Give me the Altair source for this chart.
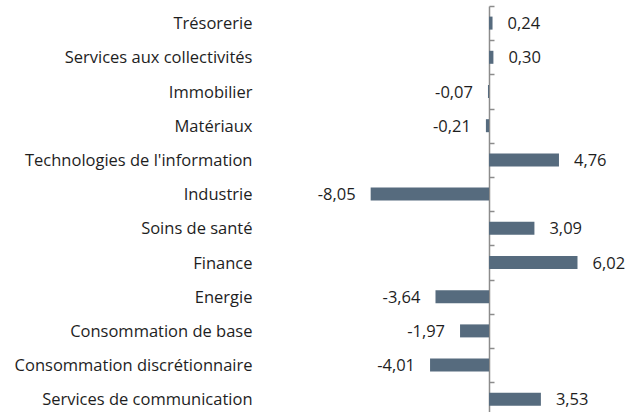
import altair as alt
import pandas as pd

categories = [
    "Trésorerie",
    "Services aux collectivités",
    "Immobilier",
    "Matériaux",
    "Technologies de l'information",
    "Industrie",
    "Soins de santé",
    "Finance",
    "Energie",
    "Consommation de base",
    "Consommation discrétionnaire",
    "Services de communication",
]
values = [0.24, 0.30, -0.07, -0.21, 4.76, -8.05, 3.09, 6.02, -3.64, -1.97, -4.01, 3.53]

df = pd.DataFrame({
    "cat": categories,
    "val": values,
    "label": [f"{v:.2f}".replace(".", ",") for v in values],
})

FONT = "Open Sans"
FS = 16.5
TXT = "#1e1e1e"
BAR = "#566b7e"
AXC = "#8c8c8c"
SCALE_PX = 14.7
W = 372
LEFT_PX = 489 - 260
STEP = 34.2
xdom = [-LEFT_PX / SCALE_PX, (W - LEFT_PX) / SCALE_PX]

xscale = alt.Scale(domain=xdom, nice=False, zero=False)
yscale = alt.Scale(domain=categories, paddingInner=0, paddingOuter=0, range=[0, STEP * 12])

base = alt.Chart(df)

bars = base.mark_bar(size=13, color=BAR).encode(
    x=alt.X("val:Q", scale=xscale, axis=None),
    y=alt.Y("cat:N", scale=yscale, sort=categories,
            axis=alt.Axis(title=None, domain=False, ticks=False, labelPadding=8,
                          labelOffset=1, labelFont=FONT, labelFontSize=FS,
                          labelColor=TXT, labelLimit=400)),
)

# zero axis: a right-oriented y axis moved inward onto x = 0, ticks at band edges
zero_axis = base.mark_point(opacity=0).encode(
    x=alt.X("val:Q", scale=xscale, axis=None),
    y=alt.Y("cat:N", scale=yscale, sort=categories,
            axis=alt.Axis(orient="right", title=None, labels=False, domain=True,
                          domainColor=AXC, domainWidth=1.5, ticks=True,
                          tickColor=AXC, tickWidth=1.5, tickSize=5,
                          tickBand="extent", offset=-(W - LEFT_PX))),
)

pos = base.transform_filter("datum.val >= 0").mark_text(
    align="left", baseline="middle", dx=15, dy=1, font=FONT, fontSize=FS, color=TXT
).encode(
    x=alt.X("val:Q", scale=xscale, axis=None),
    y=alt.Y("cat:N", scale=yscale, sort=categories, axis=None),
    text="label:N",
)

neg = base.transform_filter("datum.val < 0").mark_text(
    align="right", baseline="middle", dx=-15, dy=1, font=FONT, fontSize=FS, color=TXT
).encode(
    x=alt.X("val:Q", scale=xscale, axis=None),
    y=alt.Y("cat:N", scale=yscale, sort=categories, axis=None),
    text="label:N",
)

chart = alt.layer(bars, zero_axis, pos, neg).resolve_axis(y="independent").properties(
    width=W, height=406,
    autosize=alt.AutoSizeParams(type="none"),
    padding={"left": 260, "top": 6, "right": 0, "bottom": 0},
).configure_view(stroke=None)

chart.save("out.html", embed_options={"renderer": "svg", "actions": False})
